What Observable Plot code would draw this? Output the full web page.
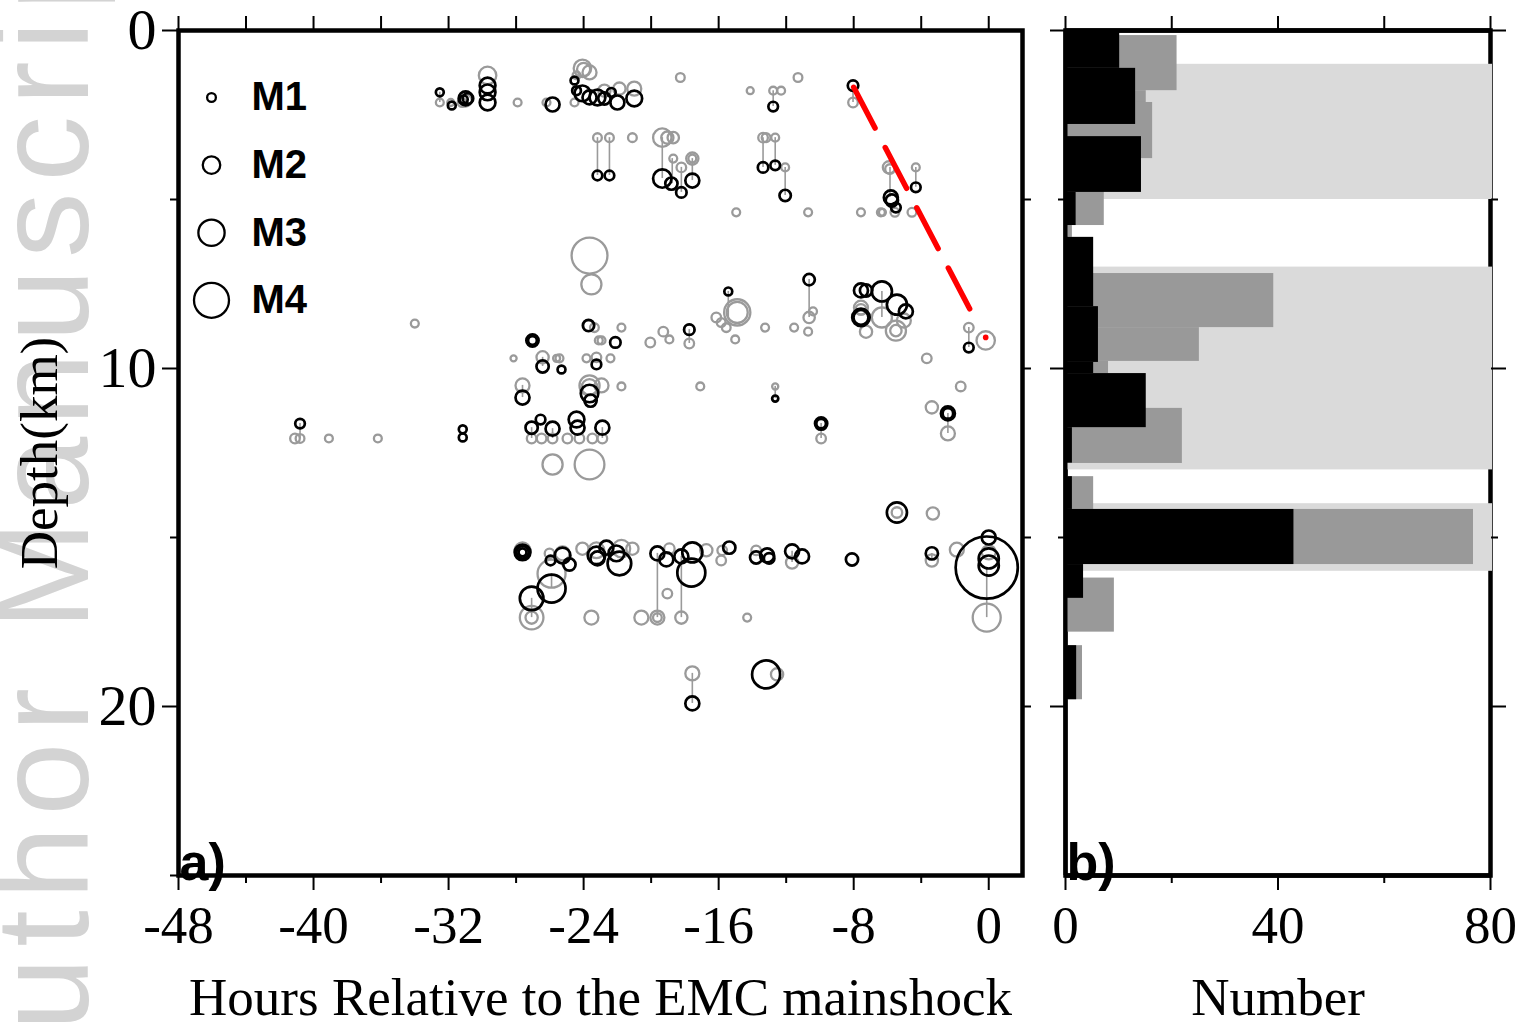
<!DOCTYPE html>
<html>
<head>
<meta charset="utf-8">
<script src="https://cdn.jsdelivr.net/npm/d3@7"></script>
<script src="https://cdn.jsdelivr.net/npm/@observablehq/plot@0.6"></script>
<style>
  html, body { margin: 0; padding: 0; background: #fff; }
  #wrap { position: relative; width: 1531px; height: 1026px; overflow: hidden; background: #fff; }
  #wm { position: absolute; left: 0; top: 0; }
  #pa { position: absolute; left: 0; top: 0; }
  #pb { position: absolute; left: 1040px; top: 0; }
</style>
</head>
<body>
<div id="wrap">
  <svg id="wm" width="1531" height="1026">
    <text transform="translate(88,1129) rotate(-90)" font-family="'Liberation Sans', Arial, sans-serif" font-size="131" letter-spacing="11" fill="#d3d3d3">Author Manuscript</text>
  </svg>
  <div id="pa"></div>
  <div id="pb"></div>
</div>
<script>
// ---------------- DATA ----------------
// Catalog (gray) locations: hours relative to mainshock, depth (km), magnitude
const grayHours = [-32.52,-31.87,-30.99,-31.2,-29.69,-27.91,-26.20,-24.54,-24.42,-24.07,-24.0,-23.65,-22.77,-21.88,-21.00,-18.27,-14.13,-12.77,-12.30,-11.30,-8.04,
 -23.18,-22.47,-21.11,-19.34,-19.04,-18.69,-18.69,-18.21,-17.56,-17.56,-14.96,-13.37,-13.19,-12.65,-12.06,-10.70,-7.57,-6.39,-6.3,-5.56,-4.55,-5.91,-5.85,-4.32,
 -23.65,-23.54,-34.00,-23.71,-23.36,-21.76,-22.94,-23.1,-20.05,-19.28,-18.92,-17.74,-17.74,-16.14,-15.85,-15.55,-14.90,-14.90,-15.02,-13.25,-11.53,-10.64,-10.41,-10.70,-7.57,-7.57,-7.27,-6.33,-5.50,-5.50,-5.03,-1.18,-0.18,-3.67,-27.03,-28.15,-26.43,-25.43,-25.6,-23.83,-23.24,-22.41,
 -27.62,-23.65,-23.65,-22.94,-21.76,-17.09,-12.65,-1.66,-3.37,-2.42,-9.93,-41.10,-40.80,-39.09,-36.19,-27.08,-26.49,-25.84,-24.96,-24.25,-23.48,-22.89,-25.84,-23.65,
 -27.62,-27.5,-26.02,-25.25,-24.07,-23.24,-21.76,-21.11,-18.92,-16.73,-15.79,-15.85,-13.78,-11.65,-3.31,-3.37,-1.89,0,-25.90,-27.08,-27.08,-23.54,-20.58,-19.63,-19.63,-18.21,-19.04,-14.31,-0.12,-17.56,-12.54,-5.44];
const grayDepth = [2.13,2.13,2.07,2.13,1.33,2.13,2.13,2.13,1.33,1.12,1.15,1.24,1.78,1.72,1.72,1.39,1.78,1.78,1.78,1.39,2.13,
 3.17,3.17,3.17,3.17,3.17,3.17,3.79,4.05,3.79,3.79,5.38,3.17,3.17,3.17,4.05,5.38,5.38,5.38,5.38,5.38,5.38,4.05,4.10,4.05,
 6.66,7.51,8.67,8.73,8.79,8.79,9.17,9.17,9.23,8.91,9.14,8.85,9.26,8.49,8.64,8.79,8.34,8.34,9.14,8.79,8.79,8.49,8.31,8.91,8.20,8.25,8.91,8.49,8.88,8.88,8.58,8.79,9.17,9.70,9.17,9.70,9.67,9.70,9.70,9.70,9.67,9.70,
 10.50,10.50,10.55,10.50,10.53,10.53,10.53,10.53,11.15,11.92,12.07,12.07,12.07,12.07,12.07,12.07,12.07,12.07,12.07,12.07,12.07,12.07,12.84,12.84,
 15.38,15.40,15.47,15.47,15.33,15.38,15.33,15.33,15.33,15.38,15.38,15.68,15.38,15.74,14.29,15.68,15.36,15.44,16.07,17.37,17.37,17.37,17.37,17.37,17.37,17.37,16.66,17.37,17.37,19.02,19.05,14.26];
const grayMag = [0.9,0.8,1.4,1.0,2.0,0.9,0.9,0.9,0.9,2.0,1.5,1.6,1.4,1.4,1.6,1.0,0.8,0.9,0.9,1.0,1.1,
 1.0,1.0,1.0,2.1,1.4,1.3,0.9,1.1,1.4,0.9,0.9,1.1,1.0,0.9,0.9,0.9,0.9,0.9,0.8,1.0,1.0,1.4,1.1,0.9,
 4.1,2.3,0.9,1.2,1.0,0.9,0.9,0.9,1.1,1.1,0.9,1.2,1.1,1.1,1.0,1.0,3.0,2.4,0.9,0.9,0.9,1.3,0.9,0.9,1.6,1.2,1.4,2.3,2.3,1.3,1.6,1.1,2.1,1.1,1.2,0.7,1.4,0.9,0.8,0.9,1.1,0.9,
 1.6,2.3,1.8,1.6,0.9,0.9,0.7,1.1,1.4,1.6,1.1,1.1,1.0,0.9,0.9,1.1,1.1,1.1,1.1,1.1,1.1,1.1,2.3,3.4,
 1.8,1.4,1.1,1.6,1.4,1.8,2.0,1.4,1.2,1.4,1.1,1.1,1.1,1.4,1.4,1.4,1.6,1.6,3.2,2.7,1.4,1.6,1.6,1.6,1.0,1.4,1.1,0.9,3.2,1.6,1.4,1.2];

// Relocated (black) locations
const blackHours = [-32.52,-31.81,-30.99,-30.85,-31.1,-29.69,-29.69,-29.69,-25.84,-24.54,-24.42,-24.07,-23.65,-23.18,-22.77,-22.36,-22.00,-21.00,-12.77,-8.04,
 -23.18,-22.47,-19.34,-18.80,-18.21,-17.56,-13.37,-12.65,-12.06,-5.80,-5.74,-5.50,-4.32,
 -15.43,-10.64,-23.71,-22.12,-17.74,-7.57,-7.27,-6.33,-5.44,-4.91,-7.57,-7.57,-1.18,-27.03,-27.03,-26.43,-25.31,-23.24,
 -27.62,-23.65,-23.59,-12.65,-2.42,-2.42,-9.93,-9.93,-40.80,-31.16,-31.16,-27.08,-26.55,-25.84,-24.42,-24.36,-22.89,
 -27.62,-27.62,-27.62,-25.96,-25.25,-24.84,-23.24,-23.18,-22.65,-22.06,-21.88,-19.63,-19.10,-18.21,-17.56,-17.62,-15.37,-13.78,-13.13,-13.01,-11.65,-11.06,-8.10,-5.44,-3.37,-0.12,0,0,0,-25.90,-27.08,-17.56,-13.19];
const blackDepth = [1.83,2.22,2.01,2.01,2.04,1.63,1.83,2.13,2.19,1.48,1.78,1.86,1.98,1.98,2.01,1.83,2.13,2.01,2.25,1.63,
 4.29,4.29,4.38,4.53,4.79,4.44,4.05,3.99,4.88,4.94,5.03,5.24,4.64,
 7.72,7.37,8.73,9.23,8.85,7.69,7.69,7.72,8.11,8.31,8.49,8.49,9.38,9.17,9.17,9.94,10.03,9.88,
 10.86,10.74,10.95,10.89,11.33,11.33,11.63,11.63,11.63,11.80,12.04,11.75,11.51,11.78,11.51,11.75,11.75,
 15.44,15.44,15.44,15.68,15.53,15.80,15.53,15.62,15.30,15.47,15.77,15.47,15.65,15.56,15.44,16.04,15.30,15.59,15.53,15.62,15.41,15.56,15.65,14.26,15.47,15.89,15.00,15.62,15.83,16.51,16.80,19.91,19.05];
const blackMag = [0.9,0.9,1.6,1.2,0.9,1.8,1.8,1.8,1.6,0.9,1.0,1.8,1.6,1.8,1.4,1.0,1.6,1.8,1.1,1.2,
 1.1,1.1,2.1,1.4,1.2,1.6,1.2,1.1,1.3,1.6,1.4,1.1,1.1,
 0.9,1.3,1.3,1.2,1.2,1.6,1.4,2.3,2.3,1.6,2.0,1.7,1.1,1.4,1.0,1.4,0.9,1.1,
 1.6,2.0,1.4,0.7,1.6,1.2,1.4,1.1,1.1,0.9,0.9,1.4,1.1,1.6,1.8,1.6,1.6,
 1.8,1.4,0.9,1.1,1.8,1.4,2.0,1.6,1.6,1.8,2.7,1.6,1.6,1.6,2.3,3.2,1.4,1.4,1.6,1.2,1.6,1.6,1.4,2.3,1.4,7.1,1.6,2.3,2.3,3.2,2.7,1.6,3.2];

// Vertical links between catalog and relocated depths
const linkHours  = [-32.52,-12.77,-8.04,-23.18,-22.47,-19.34,-18.75,-18.21,-17.56,-13.37,-12.65,-12.06,-5.85,-4.32,-15.43,-10.64,-6.33,-1.18,-17.74,-26.43,-27.62,-12.65,-2.42,-9.93,-40.80,-27.08,-25.84,-22.89,-25.90,-27.08,-19.63,-18.21,-0.12,-17.56,-3.37,-11.65];
const linkDepth1 = [1.83,1.78,1.63,3.17,3.17,3.17,3.79,4.05,3.79,3.17,3.17,4.05,4.05,4.05,7.72,7.37,7.72,8.79,8.85,9.67,10.50,10.53,11.33,11.63,11.63,11.75,11.78,11.75,16.07,16.80,15.47,15.56,15.89,19.02,15.47,15.41];
const linkDepth2 = [2.13,2.25,2.13,4.29,4.29,4.38,4.53,4.79,4.44,4.05,3.99,4.88,4.94,4.64,8.49,8.49,8.49,9.38,9.26,9.94,10.86,10.89,11.92,12.07,12.07,12.07,12.07,12.07,16.51,17.37,17.37,17.37,17.37,19.91,15.68,15.74];

// Red dashed migration line and mainshock hypocentre
const redHours = [-8.0, -0.85];
const redDepth = [1.68, 8.5];
const hypoHours = [-0.18];
const hypoDepth = [9.08];

// Legend
const legendMag = [1, 2, 3, 4];
const legendLabel = ["M1", "M2", "M3", "M4"];

// Histogram (panel b): depth bin top, bin bottom, count
const grayTop    = [0.15,1.78,2.13,4.14,5.77,7.19,8.79,9.79,11.18,13.2,14.17,16.2,18.2];
const grayBottom = [1.78,2.13,3.79,5.77,6.12,8.79,9.79,10.15,12.81,14.17,15.8,17.8,19.8];
const grayCount  = [21,15.2,16.4,7.3,1.3,39.2,25.2,8.1,22,5.3,76.8,9.2,3.2];
const blackTop    = [0.06,1.12,3.14,4.79,6.12,8.17,9.82,10.15,11.75,13.2,14.17,15.8,18.2];
const blackBottom = [1.12,2.78,4.79,5.77,8.17,9.82,10.15,11.75,12.8,14.17,15.8,16.8,19.8];
const blackCount  = [10.2,13.2,14.3,2,5.3,6.2,5.3,15.2,1.3,1.3,43,3.4,2.1];
const bandTop    = [1, 7, 14];
const bandBottom = [5, 13, 16];

// Ticks and labels
const xMajorA = [-48,-40,-32,-24,-16,-8,0];
const xMinorA = [-44,-36,-28,-20,-12,-4];
const xMajorB = [0,40,80];
const xMinorB = [20,60];
const yMajor = [0,10,20];
const yMinor = [5,15,25];
const xLabelA = "Hours Relative to the EMC mainshock";
const yLabelA = "Depth(km)";
const xLabelB = "Number";

// ---------------- BUILD ----------------
const serif = "'Liberation Serif', 'Times New Roman', serif";
const sans = "'Liberation Sans', Arial, sans-serif";
const GRAY = "#9a9a9a";

const grayEv = grayHours.map((h, i) => ({h, d: grayDepth[i], m: grayMag[i]}));
const blackEv = blackHours.map((h, i) => ({h, d: blackDepth[i], m: blackMag[i]}));
const links = linkHours.map((h, i) => ({h, d1: linkDepth1[i], d2: linkDepth2[i]}));
const red = redHours.map((h, i) => ({h, d: redDepth[i]}));
const hypo = hypoHours.map((h, i) => ({h, d: hypoDepth[i]}));
const grayHist = grayTop.map((t, i) => ({t, b: grayBottom[i], n: grayCount[i]}));
const blackHist = blackTop.map((t, i) => ({t, b: blackBottom[i], n: blackCount[i]}));
const bands = bandTop.map((t, i) => ({t, b: bandBottom[i]}));

const blank = () => "";
const style = {background: "transparent", fontFamily: serif, fontSize: "53px", color: "black", overflow: "visible"};

const legendMarks = [];
legendMag.forEach((m, i) => {
  legendMarks.push(Plot.dot([m], {frameAnchor: "top-left", dx: 33, dy: 67 + 67.6 * i, r: d => d, stroke: "black", strokeWidth: 2.3, fill: "none"}));
  legendMarks.push(Plot.text([legendLabel[i]], {frameAnchor: "top-left", dx: 73, dy: 67 + 67.6 * i, textAnchor: "start", lineAnchor: "middle", fontFamily: sans, fontWeight: "bold", fontSize: 40}));
});

const plotA = Plot.plot({
  width: 1040, height: 1026,
  marginLeft: 178, marginRight: 18, marginTop: 30, marginBottom: 151,
  x: {domain: [-48, 2]},
  y: {domain: [0, 25], reverse: true},
  r: {type: "linear", domain: [0, 8], range: [0, 35]},
  style,
  marks: [
    Plot.ruleX(links, {x: "h", y1: "d1", y2: "d2", stroke: GRAY, strokeWidth: 1.6}),
    Plot.dot(grayEv, {x: "h", y: "d", r: "m", stroke: GRAY, strokeWidth: 2.3, fill: "none"}),
    Plot.dot(blackEv, {x: "h", y: "d", r: "m", stroke: "black", strokeWidth: 2.7, fill: "none"}),
    Plot.line(red, {x: "h", y: "d", stroke: "#ff0000", strokeWidth: 5.5, strokeDasharray: "46,22"}),
    Plot.dot(hypo, {x: "h", y: "d", r: 2.8, fill: "#ff0000", stroke: null}),
    ...legendMarks,
    Plot.text(["a)"], {frameAnchor: "bottom-left", textAnchor: "start", lineAnchor: "bottom", dx: 1, dy: 4, fontFamily: sans, fontWeight: "bold", fontSize: 52}),
    Plot.frame({stroke: "black", strokeWidth: 4.5}),
    Plot.axisX({anchor: "bottom", ticks: xMajorA, tickSize: 15, tickPadding: 15, tickFormat: d => String(d), strokeWidth: 2, label: null}),
    Plot.axisX({anchor: "bottom", ticks: xMinorA, tickSize: 8, tickFormat: blank, strokeWidth: 2, label: null}),
    Plot.axisX({anchor: "top", ticks: xMajorA.concat(xMinorA), tickSize: 15, tickFormat: blank, strokeWidth: 2, label: null}),
    Plot.axisY({anchor: "left", ticks: yMajor, tickSize: 16, tickPadding: 6, tickFormat: d => String(d), strokeWidth: 2, fontSize: 58, label: null}),
    Plot.axisY({anchor: "left", ticks: yMinor, tickSize: 8, tickFormat: blank, strokeWidth: 2, label: null}),
    Plot.axisY({anchor: "right", ticks: [5, 10, 15, 20], tickSize: 8, tickFormat: blank, strokeWidth: 2, label: null}),
    Plot.text([xLabelA], {frameAnchor: "bottom", dy: 123, textAnchor: "middle", lineAnchor: "middle", fontSize: 53}),
    Plot.text([yLabelA], {frameAnchor: "left", dx: -138, rotate: -90, textAnchor: "middle", lineAnchor: "middle", fontSize: 53})
  ]
});
document.getElementById("pa").appendChild(plotA);

const plotB = Plot.plot({
  width: 491, height: 1026,
  marginLeft: 25, marginRight: 41, marginTop: 30, marginBottom: 151,
  x: {domain: [0, 80]},
  y: {domain: [0, 25], reverse: true},
  style,
  marks: [
    Plot.frame({stroke: "black", strokeWidth: 4.5}),
    Plot.rectX(bands, {y1: "t", y2: "b", x1: d => 0, x2: d => 80, fill: "#dadada", insetRight: -2}),
    Plot.rectX(grayHist, {y1: "t", y2: "b", x1: d => 0, x2: "n", fill: "#999999"}),
    Plot.rectX(blackHist, {y1: "t", y2: "b", x1: d => 0, x2: "n", fill: "black"}),
    Plot.ruleX([0], {stroke: "black", strokeWidth: 4}),
    Plot.text(["b)"], {frameAnchor: "bottom-left", textAnchor: "start", lineAnchor: "bottom", dx: 1, dy: 4, fontFamily: sans, fontWeight: "bold", fontSize: 52}),
    Plot.ruleY([0, 25], {stroke: "black", strokeWidth: 4.5}),
    Plot.axisX({anchor: "bottom", ticks: xMajorB, tickSize: 15, tickPadding: 15, tickFormat: d => String(d), strokeWidth: 2, label: null}),
    Plot.axisX({anchor: "bottom", ticks: xMinorB, tickSize: 8, tickFormat: blank, strokeWidth: 2, label: null}),
    Plot.axisX({anchor: "top", ticks: xMajorB.concat(xMinorB), tickSize: 15, tickFormat: blank, strokeWidth: 2, label: null}),
    Plot.axisY({anchor: "left", ticks: yMajor, tickSize: 15, tickFormat: blank, strokeWidth: 2, label: null}),
    Plot.axisY({anchor: "left", ticks: [5, 15], tickSize: 7, tickFormat: blank, strokeWidth: 2, label: null}),
    Plot.axisY({anchor: "right", ticks: yMajor, tickSize: 15, tickFormat: blank, strokeWidth: 2, label: null}),
    Plot.axisY({anchor: "right", ticks: [5, 15], tickSize: 7, tickFormat: blank, strokeWidth: 2, label: null}),
    Plot.text([xLabelB], {frameAnchor: "bottom", dy: 123, textAnchor: "middle", lineAnchor: "middle", fontSize: 53})
  ]
});
document.getElementById("pb").appendChild(plotB);
</script>
</body>
</html>
